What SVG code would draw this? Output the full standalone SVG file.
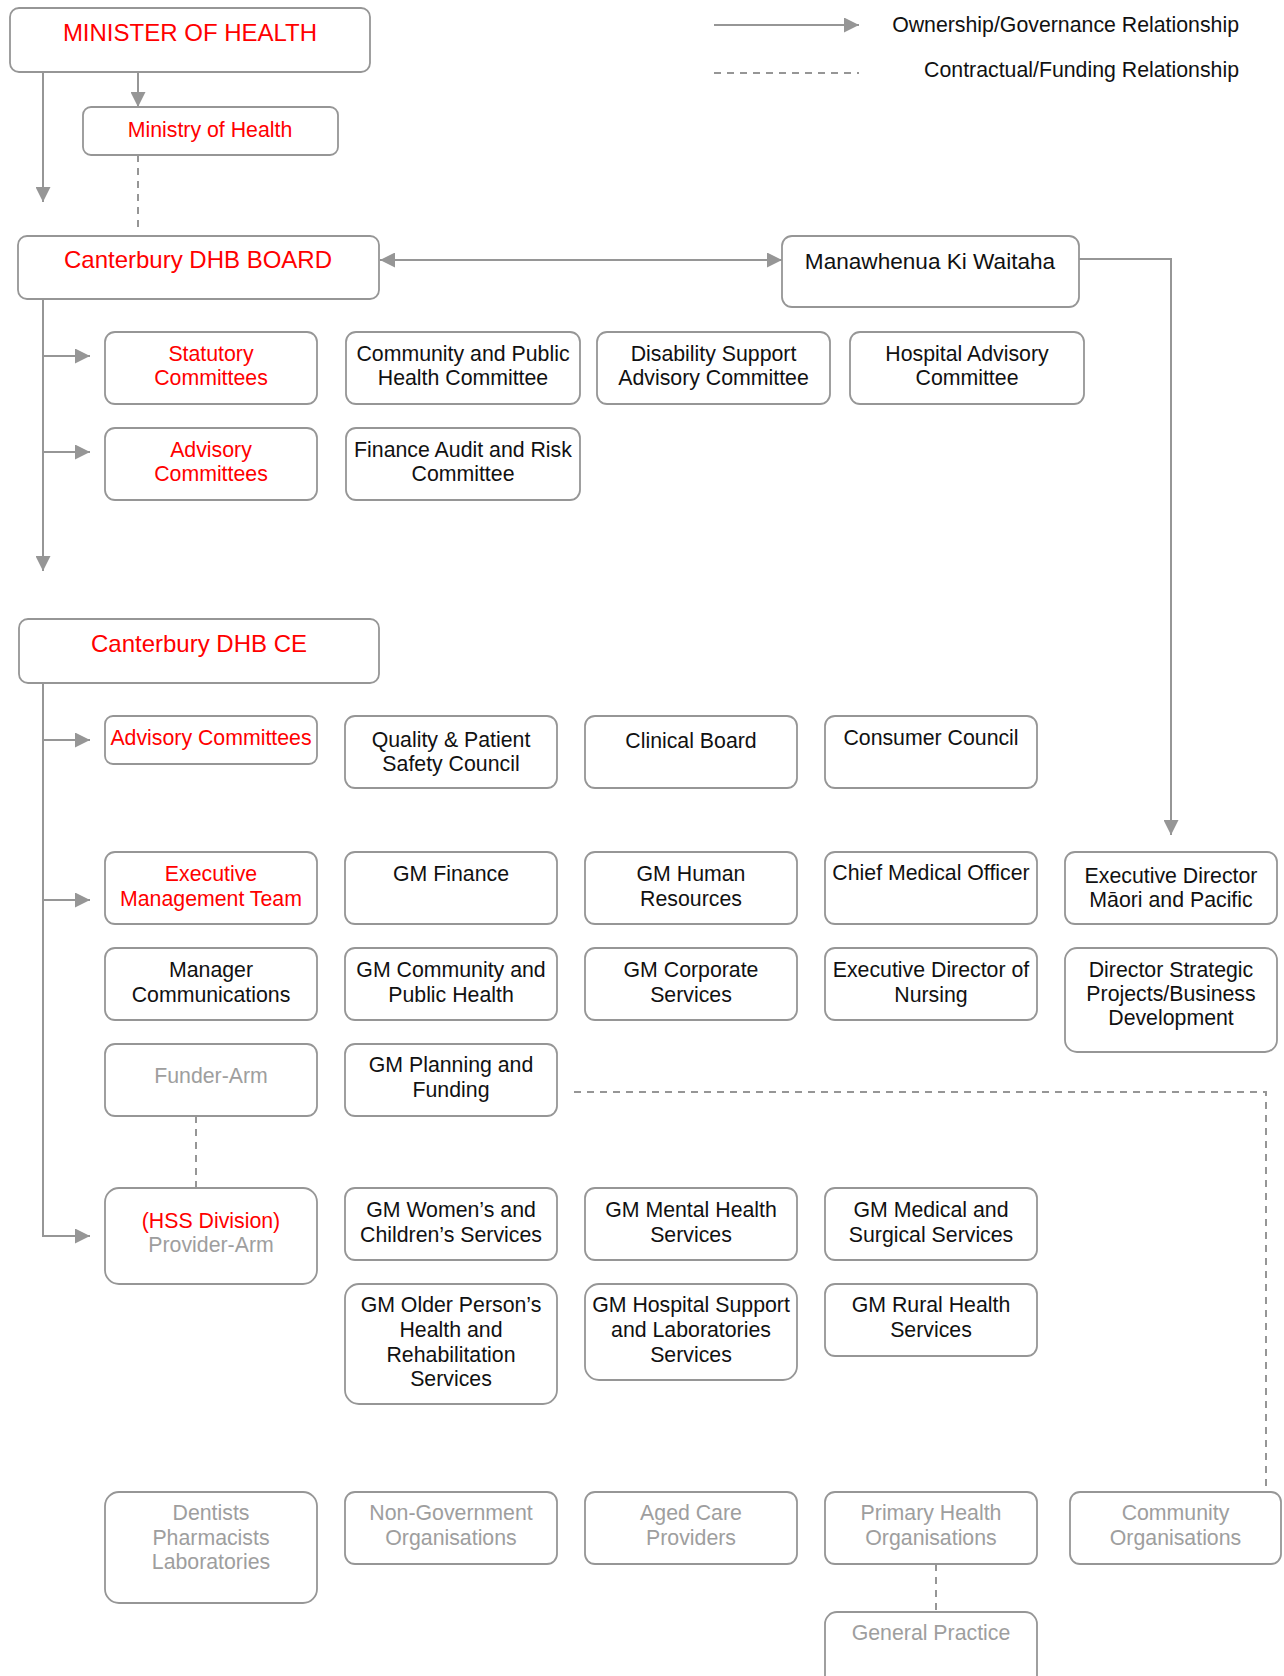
<svg xmlns="http://www.w3.org/2000/svg" width="1284" height="1676" viewBox="0 0 1284 1676">
<style>
  .box { fill: #ffffff; stroke: #969696; stroke-width: 1.8; }
  .t { font-family: "Liberation Sans", Arial, sans-serif; font-size: 21.3px; text-anchor: middle; fill: #111111; }
  .red { fill: #ff0000; }
  .grey { fill: #9e9e9e; }
  .big { font-size: 24px; }
  .conn { fill: none; stroke: #969696; stroke-width: 2; }
  .dash { fill: none; stroke: #969696; stroke-width: 2; stroke-dasharray: 7 6; }
  .legend { font-family: "Liberation Sans", Arial, sans-serif; font-size: 21.3px; text-anchor: end; fill: #111111; }
</style>
<defs>
  <marker id="ah" viewBox="0 0 15 15" refX="15" refY="7.5" markerWidth="15" markerHeight="15" markerUnits="userSpaceOnUse" orient="auto-start-reverse">
    <path d="M0,0 L15,7.5 L0,15 z" fill="#969696"/>
  </marker>
</defs>
<rect width="1284" height="1676" fill="#ffffff"/>

<g id="legend">
  <line class="conn" x1="714" y1="25" x2="859" y2="25" marker-end="url(#ah)"/>
  <text class="legend" x="1239" y="32">Ownership/Governance Relationship</text>
  <line class="dash" x1="714" y1="73" x2="859" y2="73"/>
  <text class="legend" x="1239" y="77">Contractual/Funding Relationship</text>
</g>

<g id="connectors">
  <line class="conn" x1="138" y1="72" x2="138" y2="107" marker-end="url(#ah)"/>
  <line class="conn" x1="43" y1="72" x2="43" y2="202" marker-end="url(#ah)"/>
  <line class="dash" x1="138" y1="155" x2="138" y2="228"/>
  <line class="conn" x1="380" y1="260" x2="782" y2="260" marker-start="url(#ah)" marker-end="url(#ah)"/>
  <path class="conn" d="M1079,259 H1171 V835" marker-end="url(#ah)"/>
  <line class="conn" x1="43" y1="299" x2="43" y2="571" marker-end="url(#ah)"/>
  <path class="conn" d="M43,356 H90" marker-end="url(#ah)"/>
  <path class="conn" d="M43,452 H90" marker-end="url(#ah)"/>
  <path class="conn" d="M43,683 V1236 H90" marker-end="url(#ah)"/>
  <path class="conn" d="M43,740 H90" marker-end="url(#ah)"/>
  <path class="conn" d="M43,900 H90" marker-end="url(#ah)"/>
  <line class="dash" x1="196" y1="1116" x2="196" y2="1188"/>
  <path class="dash" d="M574,1092 H1266 V1492"/>
  <line class="dash" x1="936" y1="1564" x2="936" y2="1612"/>
</g>

<g id="minister"><rect class="box" x="10" y="8" width="360" height="64" rx="9"/><text class="t red big" x="190" y="41">MINISTER OF HEALTH</text></g>
<g id="ministry"><rect class="box" x="83" y="107" width="255" height="48" rx="8"/><text class="t red" x="210" y="137">Ministry of Health</text></g>
<g id="board"><rect class="box" x="18" y="236" width="361" height="63" rx="9"/><text class="t red big" x="198" y="268">Canterbury DHB BOARD</text></g>
<g id="manawhenua"><rect class="box" x="782" y="236" width="297" height="71" rx="10"/><text class="t" x="930" y="269" style="font-size:22.6px">Manawhenua Ki Waitaha</text></g>

<g id="statutory"><rect class="box" x="105" y="332" width="212" height="72" rx="10"/><text class="t red" x="211" y="361">Statutory</text><text class="t red" x="211" y="385">Committees</text></g>
<g id="cphc"><rect class="box" x="346" y="332" width="234" height="72" rx="10"/><text class="t" x="463" y="361">Community and Public</text><text class="t" x="463" y="385">Health Committee</text></g>
<g id="dsac"><rect class="box" x="597" y="332" width="233" height="72" rx="10"/><text class="t" x="713.5" y="361">Disability Support</text><text class="t" x="713.5" y="385">Advisory Committee</text></g>
<g id="hac"><rect class="box" x="850" y="332" width="234" height="72" rx="10"/><text class="t" x="967" y="361">Hospital Advisory</text><text class="t" x="967" y="385">Committee</text></g>

<g id="advisory-board"><rect class="box" x="105" y="428" width="212" height="72" rx="10"/><text class="t red" x="211" y="457">Advisory</text><text class="t red" x="211" y="481">Committees</text></g>
<g id="farc"><rect class="box" x="346" y="428" width="234" height="72" rx="10"/><text class="t" x="463" y="457">Finance Audit and Risk</text><text class="t" x="463" y="481">Committee</text></g>

<g id="ce"><rect class="box" x="19" y="619" width="360" height="64" rx="9"/><text class="t red big" x="199" y="652">Canterbury DHB CE</text></g>

<g id="advisory-ce"><rect class="box" x="105" y="716" width="212" height="48" rx="8"/><text class="t red" x="211" y="745">Advisory Committees</text></g>
<g id="qpsc"><rect class="box" x="345" y="716" width="212" height="72" rx="10"/><text class="t" x="451" y="747">Quality &amp; Patient</text><text class="t" x="451" y="771">Safety Council</text></g>
<g id="clinical-board"><rect class="box" x="585" y="716" width="212" height="72" rx="10"/><text class="t" x="691" y="748">Clinical Board</text></g>
<g id="consumer-council"><rect class="box" x="825" y="716" width="212" height="72" rx="10"/><text class="t" x="931" y="745">Consumer Council</text></g>

<g id="emt"><rect class="box" x="105" y="852" width="212" height="72" rx="10"/><text class="t red" x="211" y="881">Executive</text><text class="t red" x="211" y="906">Management Team</text></g>
<g id="gm-finance"><rect class="box" x="345" y="852" width="212" height="72" rx="10"/><text class="t" x="451" y="881">GM Finance</text></g>
<g id="gm-hr"><rect class="box" x="585" y="852" width="212" height="72" rx="10"/><text class="t" x="691" y="881">GM Human</text><text class="t" x="691" y="906">Resources</text></g>
<g id="cmo"><rect class="box" x="825" y="852" width="212" height="72" rx="10"/><text class="t" x="931" y="880">Chief Medical Officer</text></g>
<g id="ed-maori"><rect class="box" x="1065" y="852" width="212" height="72" rx="10"/><text class="t" x="1171" y="883">Executive Director</text><text class="t" x="1171" y="907">Māori and Pacific</text></g>

<g id="mgr-comms"><rect class="box" x="105" y="948" width="212" height="72" rx="10"/><text class="t" x="211" y="977">Manager</text><text class="t" x="211" y="1002">Communications</text></g>
<g id="gm-cph"><rect class="box" x="345" y="948" width="212" height="72" rx="10"/><text class="t" x="451" y="977">GM Community and</text><text class="t" x="451" y="1002">Public Health</text></g>
<g id="gm-corporate"><rect class="box" x="585" y="948" width="212" height="72" rx="10"/><text class="t" x="691" y="977">GM Corporate</text><text class="t" x="691" y="1002">Services</text></g>
<g id="ed-nursing"><rect class="box" x="825" y="948" width="212" height="72" rx="10"/><text class="t" x="931" y="977">Executive Director of</text><text class="t" x="931" y="1002">Nursing</text></g>
<g id="dir-strategic"><rect class="box" x="1065" y="948" width="212" height="104" rx="12"/><text class="t" x="1171" y="977">Director Strategic</text><text class="t" x="1171" y="1001">Projects/Business</text><text class="t" x="1171" y="1025">Development</text></g>

<g id="funder-arm"><rect class="box" x="105" y="1044" width="212" height="72" rx="10"/><text class="t grey" x="211" y="1083">Funder-Arm</text></g>
<g id="gm-planning"><rect class="box" x="345" y="1044" width="212" height="72" rx="10"/><text class="t" x="451" y="1072">GM Planning and</text><text class="t" x="451" y="1097">Funding</text></g>

<g id="hss"><rect class="box" x="105" y="1188" width="212" height="96" rx="14"/><text class="t red" x="211" y="1228">(HSS Division)</text><text class="t grey" x="211" y="1252">Provider-Arm</text></g>
<g id="gm-womens"><rect class="box" x="345" y="1188" width="212" height="72" rx="10"/><text class="t" x="451" y="1217">GM Women’s and</text><text class="t" x="451" y="1242">Children’s Services</text></g>
<g id="gm-mental"><rect class="box" x="585" y="1188" width="212" height="72" rx="10"/><text class="t" x="691" y="1217">GM Mental Health</text><text class="t" x="691" y="1242">Services</text></g>
<g id="gm-medical"><rect class="box" x="825" y="1188" width="212" height="72" rx="10"/><text class="t" x="931" y="1217">GM Medical and</text><text class="t" x="931" y="1242">Surgical Services</text></g>

<g id="gm-older"><rect class="box" x="345" y="1284" width="212" height="120" rx="14"/><text class="t" x="451" y="1312">GM Older Person’s</text><text class="t" x="451" y="1337">Health and</text><text class="t" x="451" y="1362">Rehabilitation</text><text class="t" x="451" y="1386">Services</text></g>
<g id="gm-hospital"><rect class="box" x="585" y="1284" width="212" height="96" rx="14"/><text class="t" x="691" y="1312">GM Hospital Support</text><text class="t" x="691" y="1337">and Laboratories</text><text class="t" x="691" y="1362">Services</text></g>
<g id="gm-rural"><rect class="box" x="825" y="1284" width="212" height="72" rx="10"/><text class="t" x="931" y="1312">GM Rural Health</text><text class="t" x="931" y="1337">Services</text></g>

<g id="dentists"><rect class="box" x="105" y="1492" width="212" height="111" rx="14"/><text class="t grey" x="211" y="1520">Dentists</text><text class="t grey" x="211" y="1545">Pharmacists</text><text class="t grey" x="211" y="1569">Laboratories</text></g>
<g id="ngo"><rect class="box" x="345" y="1492" width="212" height="72" rx="10"/><text class="t grey" x="451" y="1520">Non-Government</text><text class="t grey" x="451" y="1545">Organisations</text></g>
<g id="aged-care"><rect class="box" x="585" y="1492" width="212" height="72" rx="10"/><text class="t grey" x="691" y="1520">Aged Care</text><text class="t grey" x="691" y="1545">Providers</text></g>
<g id="pho"><rect class="box" x="825" y="1492" width="212" height="72" rx="10"/><text class="t grey" x="931" y="1520">Primary Health</text><text class="t grey" x="931" y="1545">Organisations</text></g>
<g id="community-orgs"><rect class="box" x="1070" y="1492" width="211" height="72" rx="10"/><text class="t grey" x="1175.5" y="1520">Community</text><text class="t grey" x="1175.5" y="1545">Organisations</text></g>
<g id="general-practice"><rect class="box" x="825" y="1612" width="212" height="80" rx="12"/><text class="t grey" x="931" y="1640">General Practice</text></g>
</svg>
